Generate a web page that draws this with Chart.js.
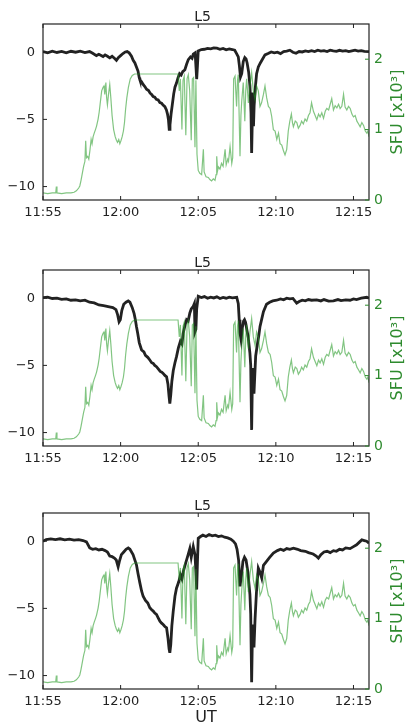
<!DOCTYPE html>
<html>
<head>
<meta charset="utf-8">
<script src="https://cdn.jsdelivr.net/npm/chart.js@4"></script>
<style>
  html, body { margin: 0; padding: 0; background: #fff; }
  #wrap { position: relative; width: 405px; height: 726px; }
  canvas { position: absolute; left: 0; }
</style>
</head>
<body>
<div id="wrap">
  <canvas id="c1" width="405" height="230" style="top:0px"></canvas>
  <canvas id="c2" width="405" height="230" style="top:246px"></canvas>
  <canvas id="c3" width="405" height="237" style="top:489px"></canvas>
</div>
<script>
// minutes after 11:55 UT
var xTicks = [0, 5, 10, 15, 20];
var xTickLabels = ['11:55', '12:00', '12:05', '12:10', '12:15'];
var leftTicks = [0, -5, -10];
var rightTicks = [0, 1, 2];
var panelTitle = 'L5';

// radio flux, SFU x10^3 (same in all three panels)
var sfu = [
  [0,0.10],[0.3,0.09],[0.6,0.10],[0.82,0.10],[0.86,0.19],[0.9,0.10],[1.2,0.09],[1.5,0.10],[1.8,0.10],
  [2.0,0.11],[2.15,0.13],[2.3,0.17],[2.37,0.20],[2.45,0.28],[2.55,0.40],[2.62,0.48],[2.7,0.55],
  [2.75,0.84],[2.8,0.60],[2.88,0.62],[2.95,0.58],[3.02,0.70],[3.1,0.86],[3.16,0.80],[3.23,0.90],
  [3.3,0.95],[3.38,1.00],[3.45,1.05],[3.55,1.15],[3.62,1.25],[3.7,1.40],[3.78,1.55],[3.87,1.60],
  [3.93,1.62],[3.98,1.50],[4.05,1.67],[4.1,1.45],[4.15,1.35],[4.22,1.50],[4.3,1.64],[4.37,1.45],
  [4.45,1.20],[4.55,1.00],[4.65,0.90],[4.73,0.85],[4.8,0.82],[4.88,0.86],[4.95,0.80],[5.02,0.84],
  [5.1,0.90],[5.18,0.98],[5.25,1.10],[5.32,1.29],[5.4,1.45],[5.5,1.60],[5.62,1.72],[5.75,1.77],
  [5.9,1.79],[8.7,1.79],[8.78,1.55],[8.85,1.72],[8.95,1.00],[9.02,1.70],[9.1,1.76],[9.2,0.92],
  [9.28,1.72],[9.36,1.78],[9.45,1.55],[9.55,0.85],[9.62,1.72],[9.7,1.74],[9.79,0.75],[9.85,1.70],
  [9.92,0.65],[10.0,0.42],[10.1,0.38],[10.22,0.36],[10.33,0.72],[10.38,0.40],[10.5,0.33],[10.65,0.32],
  [10.75,0.29],[10.86,0.27],[10.97,0.30],[11.08,0.28],[11.15,0.36],[11.19,0.62],[11.25,0.42],
  [11.3,0.47],[11.4,0.44],[11.5,0.52],[11.6,0.48],[11.73,0.72],[11.8,0.50],[11.9,0.58],[11.95,0.55],
  [12.05,0.76],[12.16,0.52],[12.22,0.60],[12.28,1.72],[12.37,1.76],[12.47,1.33],[12.53,1.70],
  [12.58,1.78],[12.69,0.62],[12.75,1.20],[12.8,1.40],[12.9,1.67],[13.0,1.12],[13.06,1.55],[13.12,1.72],
  [13.23,1.38],[13.33,1.62],[13.44,1.81],[13.55,1.55],[13.66,1.43],[13.76,1.62],[13.87,1.55],
  [13.98,1.33],[14.08,1.38],[14.2,1.50],[14.3,1.62],[14.41,1.45],[14.52,1.33],[14.63,1.30],
  [14.73,1.19],[14.84,1.00],[14.95,0.98],[15.06,0.86],[15.17,0.95],[15.27,0.80],[15.38,0.78],
  [15.49,0.70],[15.59,0.64],[15.7,0.72],[15.8,0.98],[15.9,1.12],[16.0,1.22],[16.07,1.10],[16.13,1.04],
  [16.25,1.12],[16.35,1.10],[16.45,1.02],[16.56,1.06],[16.66,1.12],[16.77,1.08],[16.88,1.15],
  [16.99,1.12],[17.1,1.20],[17.2,1.24],[17.3,1.38],[17.42,1.26],[17.53,1.20],[17.64,1.14],[17.75,1.22],
  [17.85,1.18],[17.96,1.24],[18.07,1.16],[18.18,1.26],[18.28,1.30],[18.4,1.28],[18.5,1.36],[18.6,1.44],
  [18.71,1.28],[18.82,1.34],[18.93,1.31],[19.04,1.36],[19.14,1.30],[19.25,1.33],[19.36,1.50],
  [19.46,1.32],[19.57,1.28],[19.68,1.33],[19.79,1.30],[19.9,1.22],[20.0,1.18],[20.11,1.20],[20.22,1.12],
  [20.33,1.08],[20.43,1.04],[20.54,1.10],[20.65,1.06],[20.76,0.98],[20.86,0.95],[20.93,0.98],[21.0,0.90]
];

var l5Top = [
  [0,0.05],[0.3,-0.05],[0.6,0.08],[0.9,-0.02],[1.2,0.06],[1.5,-0.05],[1.8,0.07],[2.1,0.0],[2.4,0.08],
  [2.7,-0.03],[3.0,0.05],[3.2,-0.08],[3.44,-0.25],[3.6,-0.15],[3.87,-0.32],[4.0,-0.2],[4.15,-0.3],
  [4.3,-0.42],[4.45,-0.3],[4.6,-0.45],[4.73,-0.6],[4.85,-0.4],[5.0,-0.25],[5.15,-0.1],[5.3,0.02],
  [5.42,0.05],[5.55,-0.05],[5.7,-0.3],[5.81,-0.6],[5.92,-0.8],[6.02,-1.1],[6.12,-1.4],[6.2,-1.9],
  [6.24,-2.05],[6.35,-2.2],[6.45,-2.4],[6.56,-2.55],[6.67,-2.75],[6.8,-2.85],[6.9,-3.05],[7.0,-3.15],
  [7.1,-3.3],[7.2,-3.35],[7.3,-3.5],[7.42,-3.55],[7.53,-3.75],[7.64,-3.8],[7.75,-3.95],[7.85,-4.05],
  [7.95,-4.3],[8.02,-4.6],[8.08,-5.0],[8.13,-5.75],[8.18,-5.4],[8.25,-4.6],[8.33,-3.9],[8.42,-3.1],
  [8.5,-2.6],[8.6,-2.3],[8.7,-1.9],[8.8,-1.6],[8.9,-1.7],[9.0,-1.45],[9.14,-1.3],[9.25,-0.9],
  [9.36,-0.55],[9.5,-0.35],[9.6,-0.45],[9.68,-0.15],[9.8,-0.05],[9.86,-1.2],[9.9,-2.0],[9.95,-1.0],
  [10.0,0.1],[10.2,0.2],[10.4,0.22],[10.6,0.28],[10.8,0.25],[11.0,0.32],[11.2,0.3],[11.4,0.22],
  [11.6,0.28],[11.8,0.18],[12.0,0.25],[12.2,0.2],[12.35,0.15],[12.47,-0.1],[12.58,-0.35],[12.65,-1.0],
  [12.72,-1.85],[12.8,-1.6],[12.9,-0.7],[13.0,-0.4],[13.08,-0.5],[13.15,-0.8],[13.25,-1.5],[13.33,-2.5],
  [13.4,-4.5],[13.44,-7.5],[13.48,-5.2],[13.52,-3.0],[13.56,-5.5],[13.6,-4.0],[13.68,-2.6],[13.76,-1.6],
  [13.87,-1.1],[14.0,-0.8],[14.1,-0.6],[14.3,-0.2],[14.5,-0.1],[14.7,0.02],[14.9,-0.05],[15.1,0.0],
  [15.3,-0.1],[15.5,0.05],[15.7,0.08],[15.9,0.15],[16.1,0.0],[16.3,-0.08],[16.5,0.05],[16.7,0.02],
  [16.9,0.1],[17.1,0.05],[17.3,0.12],[17.5,0.05],[17.7,0.15],[17.9,0.08],[18.1,0.12],[18.3,0.05],
  [18.5,0.15],[18.7,0.1],[18.9,0.06],[19.1,0.14],[19.3,0.08],[19.5,0.12],[19.7,0.05],[19.9,0.1],
  [20.1,0.15],[20.3,0.08],[20.5,0.12],[20.7,0.06],[21.0,0.05]
];

var l5Mid = [
  [0,0.05],[0.3,0.08],[0.6,-0.02],[0.9,0.0],[1.2,-0.08],[1.5,-0.05],[1.8,-0.15],[2.1,-0.12],[2.4,-0.2],
  [2.7,-0.15],[3.0,-0.3],[3.3,-0.35],[3.6,-0.5],[3.9,-0.55],[4.2,-0.62],[4.5,-0.7],[4.7,-0.85],
  [4.8,-1.2],[4.9,-1.75],[4.98,-1.6],[5.08,-0.9],[5.2,-0.45],[5.35,-0.3],[5.49,-0.2],[5.6,-0.3],
  [5.75,-0.7],[5.87,-1.15],[5.95,-1.6],[6.02,-2.1],[6.1,-2.6],[6.2,-3.3],[6.35,-3.85],[6.5,-4.0],
  [6.6,-4.25],[6.75,-4.4],[6.88,-4.6],[7.0,-4.8],[7.1,-4.85],[7.2,-5.0],[7.31,-5.1],[7.45,-5.3],
  [7.55,-5.45],[7.65,-5.5],[7.74,-5.6],[7.85,-5.75],[7.96,-5.85],[8.05,-6.4],[8.12,-7.3],[8.17,-7.85],
  [8.23,-7.2],[8.3,-6.2],[8.39,-5.4],[8.5,-4.8],[8.6,-4.35],[8.72,-3.7],[8.85,-3.2],[8.95,-3.4],
  [9.03,-2.6],[9.15,-2.0],[9.25,-1.6],[9.35,-1.7],[9.46,-1.1],[9.55,-0.8],[9.68,-0.6],[9.75,-0.4],
  [9.79,-2.5],[9.85,-2.3],[9.9,-0.8],[10.0,0.15],[10.2,0.05],[10.4,0.12],[10.6,0.0],[10.8,0.08],
  [11.0,0.02],[11.2,0.1],[11.4,-0.02],[11.6,0.06],[11.8,0.0],[12.0,0.08],[12.2,0.02],[12.48,0.07],
  [12.58,-0.4],[12.64,-1.6],[12.69,-2.6],[12.76,-3.1],[12.84,-2.2],[12.92,-1.7],[12.98,-1.6],
  [13.05,-1.8],[13.14,-2.4],[13.22,-2.9],[13.33,-4.1],[13.38,-5.0],[13.44,-9.8],[13.5,-5.2],
  [13.55,-6.0],[13.59,-7.1],[13.64,-5.8],[13.7,-4.3],[13.8,-3.5],[13.9,-2.8],[13.98,-2.1],[14.1,-1.5],
  [14.2,-1.0],[14.4,-0.45],[14.6,-0.3],[14.8,-0.2],[15.05,-0.15],[15.3,-0.05],[15.5,-0.12],[15.7,0.0],
  [15.9,-0.05],[16.1,-0.02],[16.34,-0.37],[16.5,-0.25],[16.7,-0.15],[16.9,-0.2],[17.1,-0.1],[17.3,-0.15],
  [17.63,-0.12],[17.9,-0.2],[18.1,-0.1],[18.4,-0.22],[18.71,-0.2],[19.0,-0.1],[19.2,-0.18],[19.5,-0.12],
  [19.78,-0.15],[20.0,-0.05],[20.2,-0.1],[20.5,0.0],[20.86,0.07],[21.0,0.0]
];

var l5Bot = [
  [0,0.0],[0.2,0.12],[0.5,0.17],[0.8,0.12],[1.1,0.18],[1.4,0.1],[1.7,0.15],[2.0,0.08],[2.3,0.12],
  [2.58,0.05],[2.8,-0.05],[3.01,-0.5],[3.2,-0.6],[3.4,-0.55],[3.6,-0.65],[3.8,-0.6],[4.0,-0.7],
  [4.15,-0.8],[4.3,-1.1],[4.45,-1.15],[4.6,-1.25],[4.72,-1.4],[4.84,-1.9],[4.92,-1.5],[5.05,-1.0],
  [5.2,-0.8],[5.35,-0.6],[5.49,-0.5],[5.6,-0.6],[5.8,-1.0],[6.02,-1.75],[6.12,-2.4],[6.24,-3.1],
  [6.35,-3.7],[6.45,-4.1],[6.6,-4.4],[6.75,-4.6],[6.88,-4.95],[7.0,-5.1],[7.1,-5.2],[7.2,-5.35],
  [7.31,-5.45],[7.42,-5.7],[7.53,-5.95],[7.64,-6.1],[7.74,-6.2],[7.85,-6.35],[7.96,-6.45],[8.05,-7.2],
  [8.12,-8.0],[8.17,-8.3],[8.23,-7.7],[8.3,-6.3],[8.39,-5.2],[8.5,-4.1],[8.6,-3.5],[8.75,-3.0],
  [8.85,-2.5],[8.95,-2.8],[9.05,-2.2],[9.2,-1.6],[9.35,-1.0],[9.46,-0.55],[9.55,-1.2],[9.68,-0.4],
  [9.79,-1.0],[9.86,-2.5],[9.9,-3.6],[9.95,-1.5],[10.0,0.22],[10.15,0.35],[10.3,0.45],[10.5,0.35],
  [10.7,0.5],[10.9,0.4],[11.1,0.45],[11.3,0.35],[11.5,0.4],[11.7,0.3],[11.9,0.25],[12.1,0.15],
  [12.26,0.0],[12.4,-0.2],[12.5,-0.6],[12.6,-1.4],[12.69,-3.36],[12.78,-2.6],[12.88,-1.5],[12.98,-1.2],
  [13.08,-1.4],[13.2,-2.3],[13.33,-3.98],[13.38,-5.4],[13.44,-10.5],[13.5,-6.2],[13.55,-7.0],
  [13.59,-7.9],[13.66,-5.8],[13.75,-3.8],[13.87,-2.0],[13.98,-2.3],[14.09,-2.74],[14.2,-1.8],
  [14.4,-1.5],[14.6,-1.2],[14.84,-0.88],[15.1,-0.7],[15.3,-0.6],[15.5,-0.68],[15.7,-0.55],[15.9,-0.6],
  [16.13,-0.52],[16.4,-0.6],[16.6,-0.7],[16.9,-0.75],[17.1,-0.85],[17.4,-0.95],[17.6,-1.1],
  [17.74,-1.26],[17.9,-1.0],[18.1,-0.8],[18.3,-0.75],[18.5,-0.85],[18.71,-0.7],[18.9,-0.75],
  [19.1,-0.6],[19.3,-0.65],[19.5,-0.5],[19.78,-0.55],[20.0,-0.4],[20.2,-0.27],[20.4,-0.05],
  [20.54,0.1],[20.7,0.05],[20.85,0.0],[21.0,-0.15]
];

var sfuGreen = '#2e8b2e';
var fontFamily = '"DejaVu Sans", sans-serif';

function pts(arr) {
  return arr.map(function (p) { return { x: p[0], y: p[1] }; });
}

function fixTicks(list) {
  return function (scale) {
    scale.ticks = list.map(function (v) { return { value: v }; });
  };
}

// frame, inward tick marks and the right axis label (drawn upward)
var frameTicks = {
  id: 'frameTicks',
  afterDraw: function (chart) {
    var ctx = chart.ctx, a = chart.chartArea, s = chart.scales;
    ctx.save();
    ctx.strokeStyle = '#222';
    ctx.lineWidth = 1.2;
    ctx.strokeRect(a.left, a.top, a.right - a.left, a.bottom - a.top);
    ctx.lineWidth = 1;
    ctx.beginPath();
    xTicks.forEach(function (v) {
      var px = s.x.getPixelForValue(v);
      ctx.moveTo(px, a.bottom); ctx.lineTo(px, a.bottom - 4);
      ctx.moveTo(px, a.top); ctx.lineTo(px, a.top + 4);
    });
    leftTicks.forEach(function (v) {
      var py = s.y.getPixelForValue(v);
      ctx.moveTo(a.left, py); ctx.lineTo(a.left + 4, py);
    });
    ctx.stroke();
    ctx.strokeStyle = sfuGreen;
    ctx.beginPath();
    rightTicks.forEach(function (v) {
      var py = s.y2.getPixelForValue(v);
      ctx.moveTo(a.right, py); ctx.lineTo(a.right - 4, py);
    });
    ctx.stroke();
    ctx.translate(398, (a.top + a.bottom) / 2);
    ctx.rotate(-Math.PI / 2);
    ctx.fillStyle = sfuGreen;
    ctx.font = '16px ' + fontFamily;
    ctx.textAlign = 'center';
    ctx.textBaseline = 'middle';
    ctx.fillText('SFU [x10\u00B3]', 0, 0);
    ctx.restore();
  }
};

function makePanel(id, l5, showUT) {
  var canvas = document.getElementById(id);
  new Chart(canvas.getContext('2d'), {
    type: 'line',
    data: {
      datasets: [{
        data: pts(sfu),
        yAxisID: 'y2',
        borderColor: 'rgba(40,155,40,0.58)',
        borderWidth: 1.2,
        pointRadius: 0,
        tension: 0
      }, {
        data: pts(l5),
        yAxisID: 'y',
        borderColor: '#222',
        borderWidth: 2.8,
        pointRadius: 0,
        tension: 0
      }]
    },
    options: {
      responsive: false,
      animation: false,
      devicePixelRatio: 1,
      plugins: {
        legend: { display: false },
        tooltip: { enabled: false },
        title: {
          display: true,
          text: panelTitle,
          color: '#222',
          font: { family: fontFamily, size: 14, weight: 'normal', lineHeight: 1 },
          padding: { top: 10, bottom: 0 }
        }
      },
      scales: {
        x: {
          type: 'linear',
          min: 0,
          max: 21,
          afterBuildTicks: fixTicks(xTicks),
          afterFit: function (sc) { sc.height = canvas.height - 200; },
          grid: { display: false, drawTicks: false },
          border: { display: false },
          ticks: {
            padding: 5,
            color: '#222',
            font: { family: fontFamily, size: 13 },
            maxRotation: 0,
            callback: function (v) { return xTickLabels[xTicks.indexOf(v)]; }
          },
          title: {
            display: showUT,
            text: 'UT',
            color: '#222',
            font: { family: fontFamily, size: 16, lineHeight: 1 },
            padding: { top: 0, bottom: 0 }
          }
        },
        y: {
          position: 'left',
          min: -11,
          max: 2.1,
          afterBuildTicks: fixTicks(leftTicks),
          afterFit: function (sc) { sc.width = 43; },
          grid: { display: false, drawTicks: false },
          border: { display: false },
          ticks: {
            padding: 8,
            color: '#222',
            font: { family: fontFamily, size: 13 },
            callback: function (v) { return v < 0 ? '\u2212' + Math.abs(v) : String(v); }
          }
        },
        y2: {
          position: 'right',
          min: 0,
          max: 2.5,
          afterBuildTicks: fixTicks(rightTicks),
          afterFit: function (sc) { sc.width = 36; },
          grid: { display: false, drawTicks: false },
          border: { display: false },
          ticks: {
            padding: 5,
            color: sfuGreen,
            font: { family: fontFamily, size: 14 }
          }
        }
      }
    },
    plugins: [frameTicks]
  });
}

makePanel('c1', l5Top, false);
makePanel('c2', l5Mid, false);
makePanel('c3', l5Bot, true);
</script>
</body>
</html>
